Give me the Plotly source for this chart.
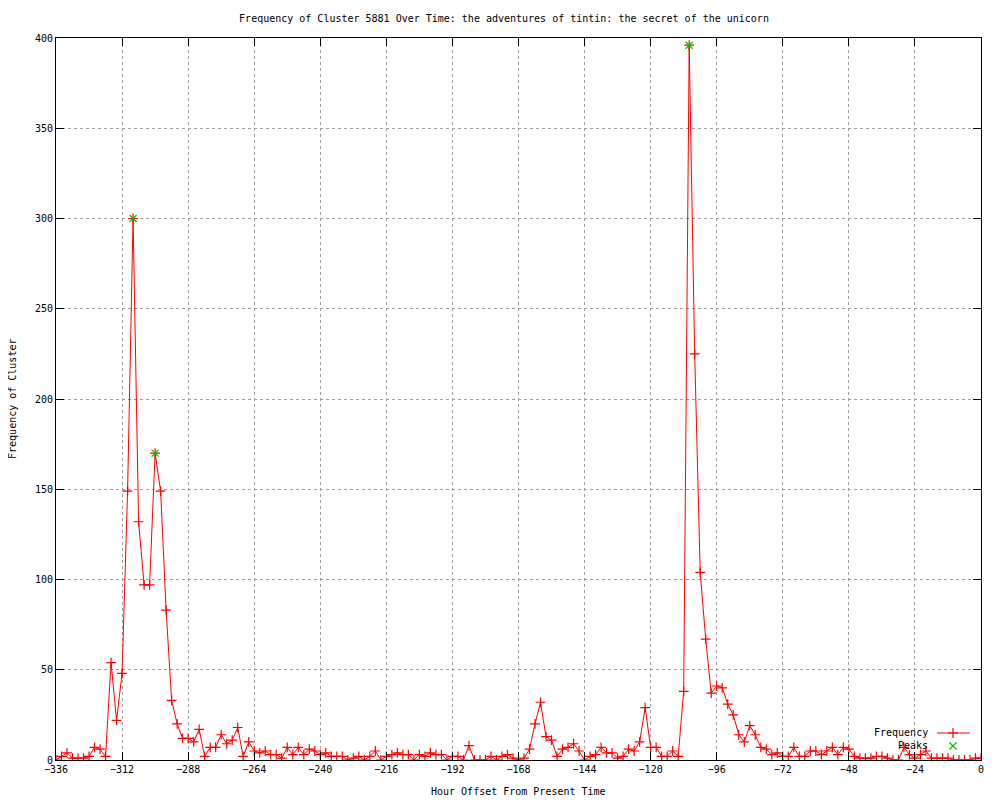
import plotly.graph_objects as go

# Hour offsets sampled every 2 hours from -336 to 0
hours = list(range(-336, 1, 2))

# Frequency of cluster at each hour offset
frequency = [
    0, 2, 4, 1, 1, 1, 2, 7, 6, 2, 54, 22,            # -336 .. -314
    48, 149, 300, 132, 97, 97, 170, 149, 83, 33, 20, 12,  # -312 .. -290
    12, 10, 17, 2, 7, 7, 14, 9, 11, 18, 2, 10,       # -288 .. -266
    5, 4, 5, 3, 3, 1, 7, 3, 7, 3, 6, 5,              # -264 .. -242
    3, 4, 2, 2, 2, 0, 1, 2, 0, 2, 5, 0,              # -240 .. -218
    2, 3, 4, 3, 3, 0, 3, 2, 4, 3, 3, 0,              # -216 .. -194
    2, 2, 0, 8, 0, 0, 0, 2, 0, 2, 3, 1,              # -192 .. -170
    0, 1, 6, 20, 32, 13, 11, 2, 6, 7, 9, 5,          # -168 .. -146
    0, 2, 3, 7, 4, 4, 1, 2, 6, 5, 10, 29,            # -144 .. -122
    7, 7, 2, 2, 5, 2, 38, 396, 225, 104, 67, 37,     # -120 .. -98
    41, 40, 31, 25, 14, 10, 19, 14, 7, 6, 3, 4,      # -96 .. -74
    2, 2, 7, 2, 2, 5, 5, 3, 5, 7, 3, 7,              # -72 .. -50
    6, 2, 1, 1, 1, 2, 2, 1, 0, 0, 7, 3,              # -48 .. -26
    1, 3, 5, 1, 1, 1, 1, 0, 0, 0, 0, 1,              # -24 .. -2
    1,                                               # 0
]

peak_hours = [-308, -300, -106]
peak_values = [300, 170, 396]

x_ticks = list(range(-336, 1, 24))
y_ticks = list(range(0, 401, 50))

title_text = "Frequency of Cluster 5881 Over Time: the adventures of tintin: the secret of the unicorn"
x_title = "Hour Offset From Present Time"
y_title = "Frequency of Cluster"
legend_labels = ["Frequency", "Peaks"]

FONT = "DejaVu Sans Mono"
RED = "#ff0000"
GREEN = "#00c000"

# The page body has an 8px default margin; size the figure to fill the rest.
W, H = 992, 792

fig = go.Figure()

fig.add_trace(go.Scatter(
    x=hours, y=frequency, mode="lines+markers",
    line=dict(color=RED, width=1),
    marker=dict(symbol="cross-thin", size=7, line=dict(color=RED, width=1.2)),
    showlegend=False, hoverinfo="x+y",
))

fig.add_trace(go.Scatter(
    x=peak_hours, y=peak_values, mode="markers",
    marker=dict(symbol="x-thin", size=7, line=dict(color=GREEN, width=1.2)),
    showlegend=False,
))

# Custom gnuplot-style legend samples on an overlay axis (0..1 space)
fig.add_trace(go.Scatter(
    x=[0.9524, 0.9697, 0.988], y=[0.0374, 0.0374, 0.0374],
    xaxis="x2", yaxis="y2", mode="lines",
    line=dict(color=RED, width=1), showlegend=False, hoverinfo="skip",
))
fig.add_trace(go.Scatter(
    x=[0.9697], y=[0.0374], xaxis="x2", yaxis="y2", mode="markers",
    marker=dict(symbol="cross-thin", size=7, line=dict(color=RED, width=1.2)),
    showlegend=False, hoverinfo="skip",
))
fig.add_trace(go.Scatter(
    x=[0.9697], y=[0.0194], xaxis="x2", yaxis="y2", mode="markers",
    marker=dict(symbol="x-thin", size=7, line=dict(color=GREEN, width=1.2)),
    showlegend=False, hoverinfo="skip",
))

axis_common = dict(
    showgrid=True, gridcolor="#a0a0a0", griddash="dot", gridwidth=1,
    showline=True, linecolor="black", linewidth=1, mirror="ticks",
    ticks="inside", ticklen=8, tickcolor="black", tickwidth=1,
    zeroline=False,
    tickfont=dict(family=FONT, size=10, color="black"),
)

fig.update_layout(
    width=W, height=H,
    margin=dict(l=48, r=19, t=30, b=40),
    paper_bgcolor="white", plot_bgcolor="white",
    font=dict(family=FONT, size=10, color="black"),
    title=dict(text=title_text, x=0.5, xanchor="center", y=1 - 10 / H,
               yanchor="middle", font=dict(family=FONT, size=10, color="black")),
    xaxis=dict(range=[-336, 0], tickvals=x_ticks, **axis_common),
    yaxis=dict(range=[0, 400], tickvals=y_ticks, **axis_common),
    xaxis2=dict(overlaying="x", range=[0, 1], visible=False),
    yaxis2=dict(overlaying="y", range=[0, 1], visible=False),
    showlegend=False,
    annotations=[
        dict(text=x_title, xref="paper", yref="paper", x=0.5, y=-0.0443,
             showarrow=False, xanchor="center", yanchor="middle",
             font=dict(family=FONT, size=10)),
        dict(text=y_title, xref="paper", yref="paper", x=-0.0476, y=0.5,
             showarrow=False, textangle=-90, xanchor="center", yanchor="middle",
             font=dict(family=FONT, size=10)),
        dict(text=legend_labels[0], xref="paper", yref="paper", x=0.9449, y=0.0374,
             showarrow=False, xanchor="right", yanchor="middle",
             font=dict(family=FONT, size=10)),
        dict(text=legend_labels[1], xref="paper", yref="paper", x=0.9449, y=0.0194,
             showarrow=False, xanchor="right", yanchor="middle",
             font=dict(family=FONT, size=10)),
    ],
)

fig.write_html("out.html")
